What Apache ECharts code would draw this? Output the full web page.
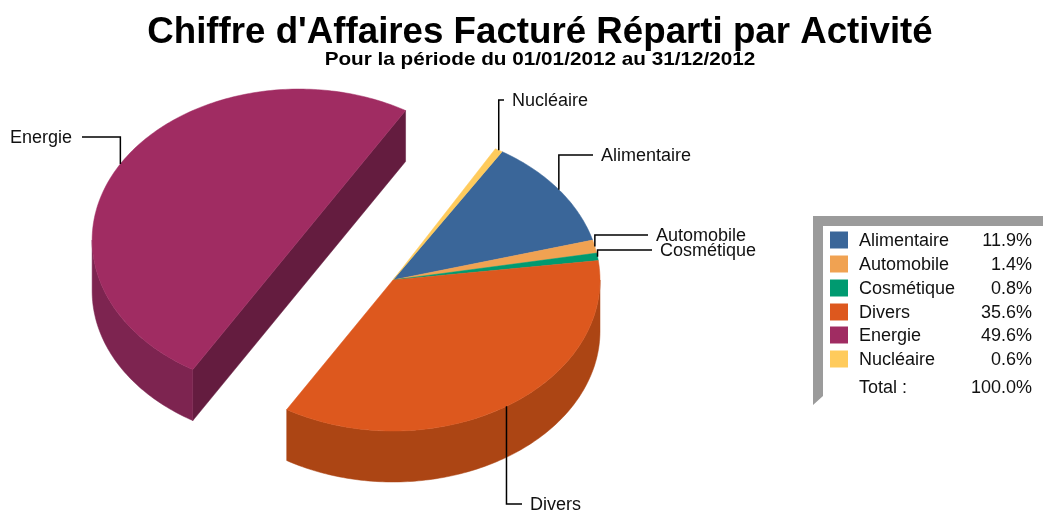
<!DOCTYPE html>
<html>
<head>
<meta charset="utf-8">
<style>
  html, body { margin: 0; padding: 0; background: #fff; }
  #chart { width: 1043px; height: 511px; }
</style>
<script src="https://cdn.jsdelivr.net/npm/echarts@6/dist/echarts.min.js"></script>
</head>
<body>
<div id="chart"></div>
<script>
const categories = ["Alimentaire", "Automobile", "Cosmétique", "Divers", "Energie", "Nucléaire"];
const shares = [11.9, 1.4, 0.8, 35.6, 49.6, 0.6];
const totalLabel = "100.0%";

const topColors = ["#3a6699", "#f0a252", "#009a70", "#dd581e", "#a02c62", "#ffcb5c"];
const wallColors = ["#2c4d73", "#b47a3e", "#007454", "#ac4514", "#7d2450", "#bf9945"];
const cutColor = "#641c3f";

// pie geometry, the picture is a tilted pie so it is an ellipse
const cx = 393, cy = 280, rx = 207, ry = 151, depth = 51;
const startAngle = 58.2;
const explode = [0, 0, 0, 0, 0.525, 0];
// the exploded slice reaches a little further round than its share in the picture
const explodePad = 1.3;
// where the leader line turns (y) and where it stops (x)
const leaderTurnY = [155, 235, 250, 504, 137, 100];
const leaderEndX = [593, 648, 652, 522, 82, 504];

const sum = shares.reduce((a, b) => a + b, 0);
const rad = (d) => (d * Math.PI) / 180;

function slices() {
  let a = startAngle;
  return shares.map((v) => {
    const from = a;
    const to = a - (v / sum) * 360;
    a = to;
    return { from, to, mid: (from + to) / 2 };
  });
}

function rim(ox, oy, t) {
  return [ox + rx * Math.cos(rad(t)), oy - ry * Math.sin(rad(t))];
}

function arc(ox, oy, from, to) {
  const pts = [];
  const n = Math.max(2, Math.ceil(Math.abs(from - to)));
  for (let i = 0; i <= n; i++) {
    pts.push(rim(ox, oy, from + ((to - from) * i) / n));
  }
  return pts;
}

const down = (pts) => pts.map((p) => [p[0], p[1] + depth]);

function renderSlice(params, api) {
  const i = api.value(0);
  const s = slices()[i];
  const ox = cx + explode[i] * rx * Math.cos(rad(s.mid));
  const oy = cy - explode[i] * ry * Math.sin(rad(s.mid));
  const to = explode[i] > 0 ? s.to - explodePad : s.to;
  const children = [];
  const poly = (points, fill) =>
    children.push({
      type: "polygon",
      shape: { points },
      style: { fill, stroke: fill, lineWidth: 0.5 },
    });

  // cut faces are only seen on the exploded slice, one polygon so no crease shows
  if (explode[i] > 0) {
    const a = rim(ox, oy, s.from);
    const b = rim(ox, oy, to);
    const cut = [a, [ox, oy], b];
    poly(cut.concat(down(cut).reverse()), cutColor);
  }

  // outer wall, the part that faces the viewer (lower half of the ellipse)
  const wallRanges = [
    [Math.min(s.from, 0), Math.max(to, -180)],
    [Math.min(s.from, -360), Math.max(to, -540)],
  ];
  wallRanges.forEach(([a, b]) => {
    if (a > b) {
      const top = arc(ox, oy, a, b);
      poly(top.concat(down(top).reverse()), wallColors[i]);
    }
  });

  poly([[ox, oy]].concat(arc(ox, oy, s.from, to)), topColors[i]);

  // leader line + label
  const p = rim(ox, oy, s.mid);
  const turnY = leaderTurnY[i];
  const endX = leaderEndX[i];
  children.push({
    type: "polyline",
    shape: { points: [p, [p[0], turnY], [endX, turnY]] },
    style: { fill: null, stroke: "#000", lineWidth: 1.5 },
  });
  const toRight = endX > p[0];
  children.push({
    type: "text",
    x: endX + (toRight ? 8 : -10),
    y: turnY + 1,
    style: {
      text: categories[i],
      fill: "#111",
      font: "18px 'Liberation Sans', Arial, sans-serif",
      align: toRight ? "left" : "right",
      verticalAlign: "middle",
    },
  });
  return { type: "group", children };
}

// legend box is plain graphic elements, rows come from the arrays
const rowY = [240, 264, 288, 312, 335, 359];
const legendFont = "18px 'Liberation Sans', Arial, sans-serif";
const legendEls = [
  {
    type: "text",
    x: 540,
    y: 33,
    style: {
      text: "Chiffre d'Affaires Facturé Réparti par Activité",
      fill: "#000",
      font: "bold 36.7px 'Liberation Sans', Arial, sans-serif",
      align: "center",
      verticalAlign: "middle",
    },
  },
  // subtitle is spaced wider than the font, as in the picture
  {
    type: "text",
    x: 540,
    y: 60,
    scaleX: 1.12,
    style: {
      text: "Pour la période du 01/01/2012 au 31/12/2012",
      fill: "#000",
      font: "bold 18.5px 'Liberation Sans', Arial, sans-serif",
      align: "center",
      verticalAlign: "middle",
    },
  },
  {
    type: "polygon",
    shape: {
      points: [[813, 216], [1043, 216], [1043, 226], [823, 226], [823, 396], [813, 405]],
    },
    style: { fill: "#9b9b9b" },
  },
];
categories.forEach((c, i) => {
  legendEls.push({
    type: "rect",
    shape: { x: 830, y: rowY[i] - 8.5, width: 18, height: 17 },
    style: { fill: topColors[i] },
  });
  legendEls.push({
    type: "text",
    x: 859,
    y: rowY[i] + 1,
    style: { text: c, fill: "#111", font: legendFont, verticalAlign: "middle" },
  });
  legendEls.push({
    type: "text",
    x: 1032,
    y: rowY[i] + 1,
    style: {
      text: shares[i].toFixed(1) + "%",
      fill: "#111",
      font: legendFont,
      align: "right",
      verticalAlign: "middle",
    },
  });
});
legendEls.push({
  type: "text",
  x: 859,
  y: 388,
  style: { text: "Total :", fill: "#111", font: legendFont, verticalAlign: "middle" },
});
legendEls.push({
  type: "text",
  x: 1032,
  y: 388,
  style: { text: totalLabel, fill: "#111", font: legendFont, align: "right", verticalAlign: "middle" },
});

const chart = echarts.init(document.getElementById("chart"), null, { renderer: "canvas" });
chart.setOption({
  animation: false,
  backgroundColor: "#fff",
  graphic: legendEls,
  series: [
    {
      type: "custom",
      coordinateSystem: "none",
      silent: true,
      renderItem: renderSlice,
      data: shares.map((v, i) => [i, v]),
    },
  ],
});
</script>
</body>
</html>
